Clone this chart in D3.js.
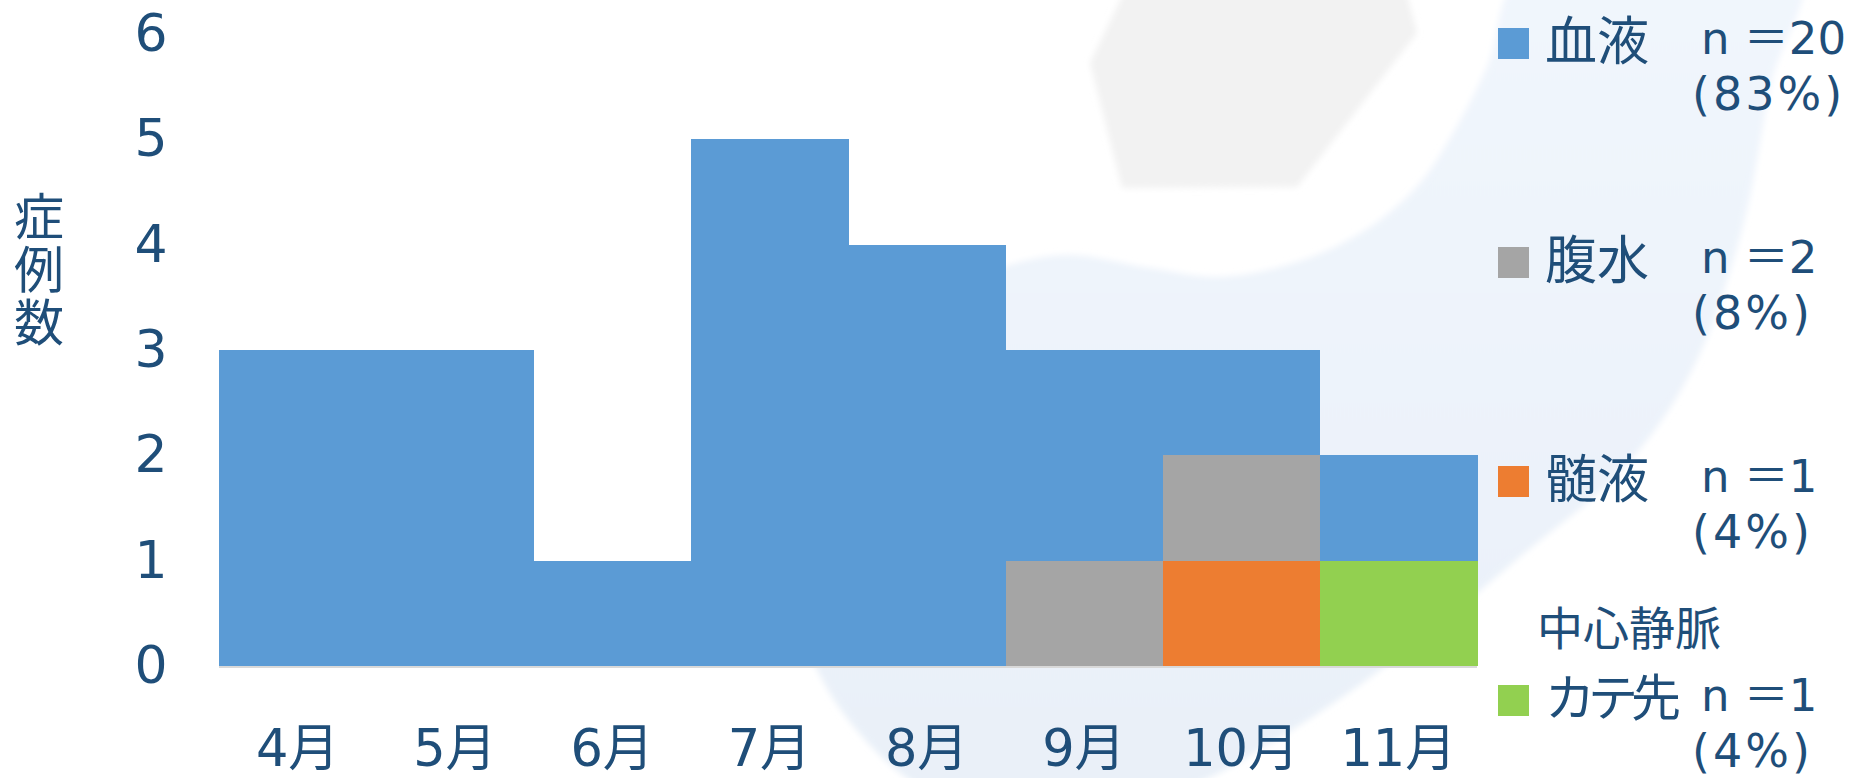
<!DOCTYPE html>
<html>
<head>
<meta charset="utf-8">
<script src="https://cdn.jsdelivr.net/npm/d3@7"></script>
<style>
  html, body { margin: 0; padding: 0; background: #fff; }
  svg text { font-family: "DejaVu Sans", "Noto Sans CJK JP", sans-serif; fill: #1f4e79; }
</style>
</head>
<body>
<div id="figure"></div>
<script>
// chart data
var months = ["4月", "5月", "6月", "7月", "8月", "9月", "10月", "11月"];
var blood = [3, 3, 1, 5, 4, 2, 1, 1];      // 血液
var ascites = [0, 0, 0, 0, 0, 1, 1, 0];    // 腹水
var csf = [0, 0, 0, 0, 0, 0, 1, 0];        // 髄液
var catheter = [0, 0, 0, 0, 0, 0, 0, 1];   // カテ先
var yTicks = [0, 1, 2, 3, 4, 5, 6];

var seriesNames = ["血液", "腹水", "髄液", "カテ先"];
var seriesCounts = ["n ＝20", "n ＝2", "n ＝1", "n ＝1"];
var seriesPct = ["(83%)", "(8%)", "(4%)", "(4%)"];
var seriesColors = ["#5b9bd5", "#a5a5a5", "#ed7d31", "#92d050"];

// faint logo in the background
var bandShape = [[1800, -30], [1772, 80], [1742, 230], [1692, 370], [1622, 470], [1522, 555],
    [1420, 640], [1300, 725], [1180, 790], [1050, 815], [930, 792], [850, 722], [805, 640],
    [790, 540], [815, 450], [870, 365], [935, 300], [1000, 268], [1067, 255], [1150, 268],
    [1220, 277], [1303, 260], [1370, 227], [1420, 183], [1453, 133], [1487, 67], [1525, -30]];
var hexShape = [[1130, -20], [1090, 63], [1122, 188], [1297, 187], [1417, 33], [1403, -20]];

var W = 1849, H = 778;

var svg = d3.select("#figure")
    .append("svg")
    .attr("width", W)
    .attr("height", H);

var defs = svg.append("defs");
defs.append("filter").attr("id", "soft")
    .append("feGaussianBlur").attr("stdDeviation", 3);
var grad = defs.append("linearGradient")
    .attr("id", "bandFill")
    .attr("x1", 0).attr("y1", 0).attr("x2", 0).attr("y2", 1);
grad.append("stop").attr("offset", "0%").attr("stop-color", "#f1f6fd");
grad.append("stop").attr("offset", "100%").attr("stop-color", "#e9f0f8");

svg.append("rect").attr("width", W).attr("height", H).attr("fill", "#fff");

svg.append("path")
    .attr("d", d3.line().curve(d3.curveCatmullRomClosed)(bandShape))
    .attr("fill", "url(#bandFill)")
    .attr("filter", "url(#soft)");

svg.append("path")
    .attr("d", d3.line().curve(d3.curveLinearClosed)(hexShape))
    .attr("fill", "#f2f2f2")
    .attr("filter", "url(#soft)");

var x = d3.scaleBand()
    .domain(months)
    .range([219, 1477])
    .padding(0);

var y = d3.scaleLinear()
    .domain([0, 6])
    .range([666, 34]);

var rows = months.map(function (m, i) {
    return { month: m, "血液": blood[i], "腹水": ascites[i], "髄液": csf[i], "カテ先": catheter[i] };
});

// bottom -> top
var stack = d3.stack().keys(["カテ先", "髄液", "腹水", "血液"]);
var layers = stack(rows);

svg.append("g")
    .attr("shape-rendering", "crispEdges")
    .selectAll("g")
    .data(layers)
    .join("g")
    .attr("fill", function (d) { return seriesColors[seriesNames.indexOf(d.key)]; })
    .selectAll("rect")
    .data(function (d) { return d; })
    .join("rect")
    .attr("x", function (d) { return x(d.data.month); })
    .attr("y", function (d) { return y(d[1]); })
    .attr("width", x.bandwidth() + 0.5)
    .attr("height", function (d) { return y(d[0]) - y(d[1]); });

// baseline
svg.append("line")
    .attr("x1", 219).attr("x2", 1477)
    .attr("y1", y(0) + 1).attr("y2", y(0) + 1)
    .attr("stroke", "#d9d9d9")
    .attr("stroke-width", 2);

// y axis labels
var yAxis = svg.append("g")
    .attr("transform", "translate(165,0)")
    .call(d3.axisLeft(y).tickValues(yTicks).tickFormat(d3.format("d")).tickSize(0).tickPadding(0));
yAxis.select(".domain").remove();
yAxis.selectAll("text")
    .attr("text-anchor", "middle")
    .attr("dx", -14)
    .attr("font-size", 52)
    .attr("fill", "#1f4e79");

// x axis labels
var xAxis = svg.append("g")
    .attr("transform", "translate(0,748)")
    .call(d3.axisBottom(x).tickSize(0).tickPadding(0));
xAxis.select(".domain").remove();
xAxis.selectAll("text")
    .attr("dy", "0.35em")
    .attr("y", 0)
    .attr("font-size", 51)
    .attr("fill", "#1f4e79");

// y title, stacked vertically
var yTitle = ["症", "例", "数"];
svg.append("g")
    .selectAll("text")
    .data(yTitle)
    .join("text")
    .attr("x", 39)
    .attr("y", function (d, i) { return 217 + i * 53; })
    .attr("dy", "0.35em")
    .attr("text-anchor", "middle")
    .attr("font-size", 50)
    .text(function (d) { return d; });

// legend
var legend = svg.append("g");
var legendY = function (i) { return 43.5 + i * 219; };

legend.selectAll("rect")
    .data(seriesNames)
    .join("rect")
    .attr("x", 1498)
    .attr("y", function (d, i) { return legendY(i) - 15.5; })
    .attr("width", 31)
    .attr("height", 31)
    .attr("fill", function (d, i) { return seriesColors[i]; });

legend.selectAll("text.name")
    .data(seriesNames)
    .join("text")
    .attr("class", "name")
    .attr("x", 1545)
    .attr("y", function (d, i) { return legendY(i) - 2; })
    .attr("dy", "0.35em")
    .attr("font-size", function (d) { return d.length > 2 ? 50 : 52; })
    .attr("letter-spacing", function (d) { return d.length > 2 ? -7 : 0; })
    .text(function (d) { return d; });

legend.append("text")
    .attr("x", 1537)
    .attr("y", 629)
    .attr("dy", "0.35em")
    .attr("font-size", 46)
    .text("中心静脈");

legend.selectAll("text.count")
    .data(seriesCounts)
    .join("text")
    .attr("class", "count")
    .attr("x", 1701)
    .attr("y", function (d, i) { return legendY(i) + 10; })
    .attr("font-size", 45)
    .text(function (d) { return d; });

legend.selectAll("text.pct")
    .data(seriesPct)
    .join("text")
    .attr("class", "pct")
    .attr("x", 1692)
    .attr("y", function (d, i) { return legendY(i) + 66; })
    .attr("font-size", 46)
    .attr("letter-spacing", 3)
    .text(function (d) { return d; });
</script>
</body>
</html>
